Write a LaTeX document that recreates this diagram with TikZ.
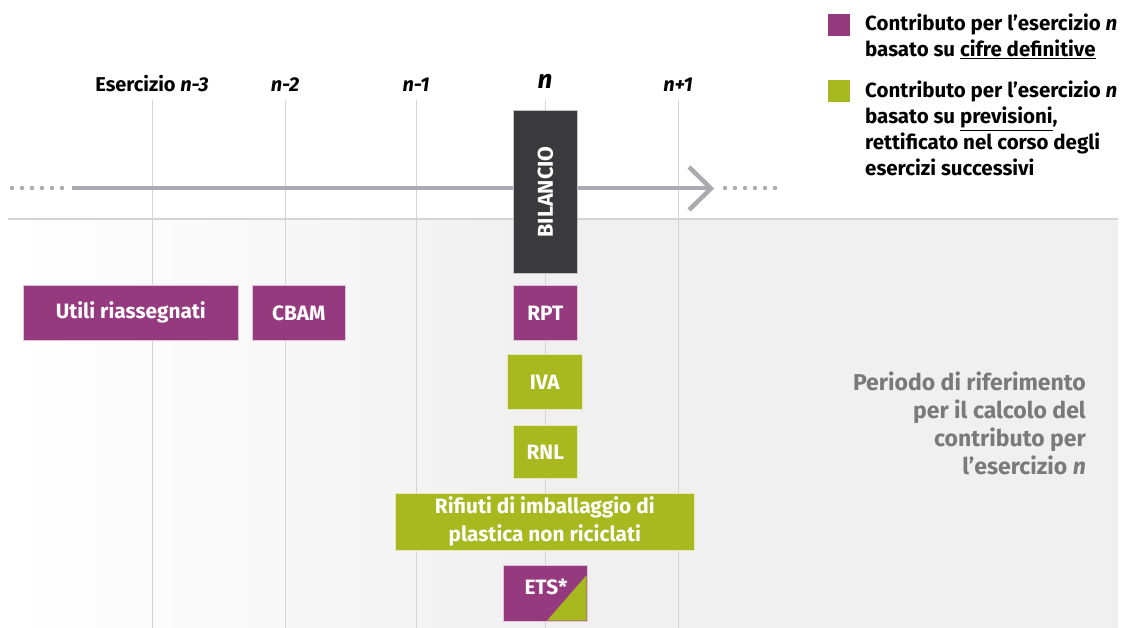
\documentclass[tikz,border=0pt]{standalone}
\usepackage{fontspec}
\setmainfont{Fira Sans}
\definecolor{purp}{HTML}{963A80}
\definecolor{grn}{HTML}{A8B920}
\definecolor{dark}{HTML}{3A3A3C}
\definecolor{arr}{HTML}{ABABAF}
\definecolor{grid}{HTML}{D4D4D4}
\definecolor{bg}{HTML}{F0F0F0}
\definecolor{note}{HTML}{7A7A7A}
\begin{document}
\begin{tikzpicture}[x=1pt,y=-1pt,
  box/.style={draw=white!70!#1, line width=0.6pt, fill=#1, text=white, font=\bfseries\fontsize{20.8}{28}\selectfont, align=center, inner sep=0pt, anchor=north west},
  hdr/.style={font=\bfseries\fontsize{20}{22}\selectfont, anchor=base},
  leg/.style={font=\bfseries\fontsize{20.5}{26}\selectfont, anchor=north west, align=left, inner sep=0pt},
  gline/.style={draw=grid, line width=1pt}]
\useasboundingbox (0,0) rectangle (1123,628);
% background
\shade[left color=white, right color=bg] (8,219) rectangle (560,628);
\fill[bg] (559.5,219) rectangle (1118,628);
\draw[gline, line width=1.4pt] (8,219) -- (1118,219);
% vertical grid
\foreach \n/\x in {a/152,b/285,c/416,d/545,e/678}{
  \coordinate (t\n) at (\x,100);
  \coordinate (b\n) at (\x,628);
  \draw[gline] (t\n) -- (b\n);
}
% headers
\node[hdr] (h3) at (152,92) {Esercizio \textit{n-3}};
\node[hdr] (h2) at (285,92) {\textit{n-2}};
\node[hdr] (h1) at (416,92) {\textit{n-1}};
\node[hdr, font=\bfseries\fontsize{26}{28}\selectfont] (h0) at (545,89) {\textit{n}};
\node[hdr] (hp) at (678,92) {\textit{n+1}};
% arrow
\coordinate (as) at (72,188);
\coordinate (ae) at (710,188);
\draw[arr, line width=4.5pt] (as) -- (ae);
\draw[arr, line width=4.5pt, line join=miter] (689,167) -- (711,188.5) -- (689,210);
\foreach \i in {0,...,5}{
  \fill[arr] (12+\i*10,188) circle (2.2);
  \fill[arr] (725+\i*10,188) circle (2.2);
}
% bilancio
\node[box=dark, minimum width=64, minimum height=163] (bil) at (513,110) {};
\node[rotate=90, text=white, font=\bfseries\fontsize{21.5}{24}\selectfont] (bilt) at (bil.center) {BILANCIO};
% boxes
\node[box=purp, minimum width=215, minimum height=55] (utili) at (23,285) {Utili riassegnati};
\node[box=purp, minimum width=93, minimum height=55] (cbam) at (252,285) {CBAM};
\node[box=purp, minimum width=64, minimum height=55] (rpt) at (513,285) {RPT};
\node[box=grn, minimum width=75, minimum height=55] (iva) at (507,354) {IVA};
\node[box=grn, minimum width=64, minimum height=53] (rnl) at (513,425) {RNL};
\node[box=grn, minimum width=299, minimum height=57] (rif) at (395,493) {Rifiuti di imballaggio di\\plastica non riciclati};
% ETS
\node[box=purp, minimum width=84, minimum height=56] (ets) at (503,565) {};
\fill[grn] (586.7,575) -- (586.7,620.7) -- (547,620.7) -- cycle;
\node[text=white, font=\bfseries\fontsize{20.8}{24}\selectfont] (etst) at (546,587) {ETS*};
% legend
\node[fill=purp, minimum size=22, inner sep=0pt, anchor=north west] (lp) at (828,14) {};
\node[leg] (lpt) at (865,14) {Contributo per l’esercizio \textit{n}\\basato su \underline{cifre definitive}};
\node[fill=grn, minimum size=22, inner sep=0pt, anchor=north west] (lg) at (828,80) {};
\node[leg] (lgt) at (865,81) {Contributo per l’esercizio \textit{n}\\basato su \underline{previsioni},\\rettificato nel corso degli\\esercizi successivi};
% note
\node[anchor=north east, align=right, text=note, inner sep=0pt, font=\bfseries\fontsize{23}{28}\selectfont] (note) at (1086,372) {Periodo di riferimento\\per il calcolo del\\contributo per\\l’esercizio \textit{n}};
\end{tikzpicture}
\end{document}
